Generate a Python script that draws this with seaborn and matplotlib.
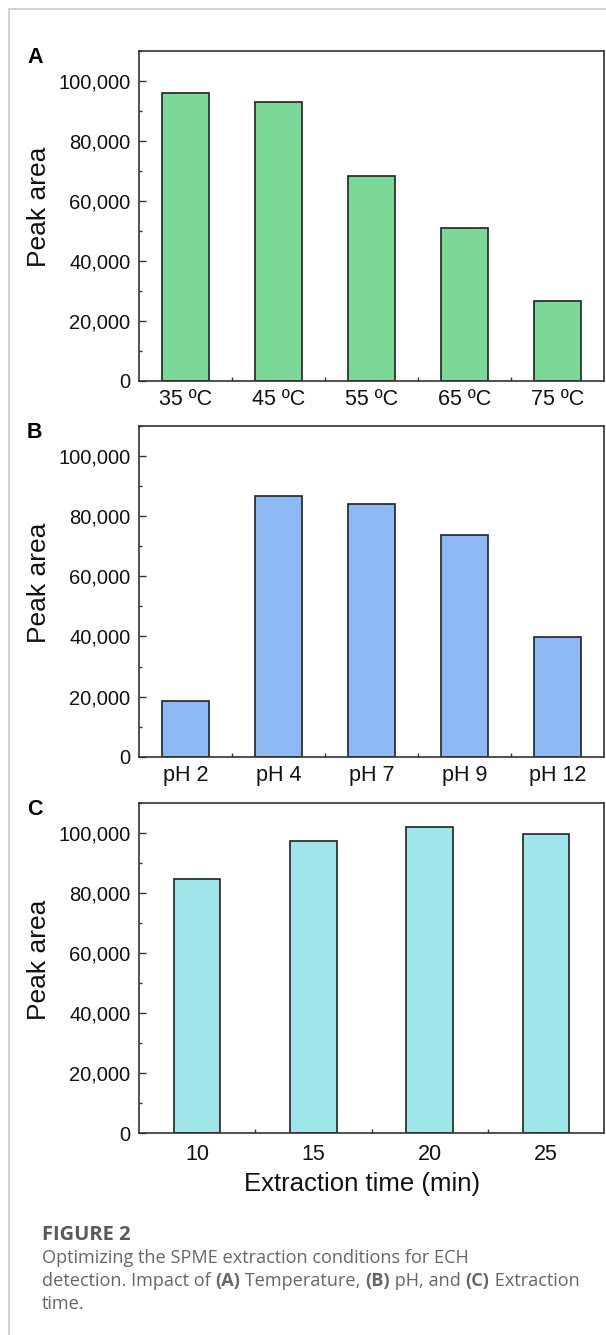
import matplotlib
matplotlib.use("Agg")
import matplotlib.pyplot as plt
from matplotlib.lines import Line2D
from matplotlib.ticker import MultipleLocator, FixedLocator, StrMethodFormatter
import pandas as pd
import seaborn as sns

# ---- data -------------------------------------------------------------
temp_labels = ["35 ºC", "45 ºC", "55 ºC", "65 ºC", "75 ºC"]
temp_area = [95800, 93000, 68200, 50900, 26500]

ph_labels = ["pH 2", "pH 4", "pH 7", "pH 9", "pH 12"]
ph_area = [18500, 86800, 83900, 73600, 39900]

time_labels = ["10", "15", "20", "25"]
time_area = [84500, 97400, 101900, 99700]

panel_letters = ["A", "B", "C"]
bar_colors = ["#7BD897", "#8DB9F4", "#9FE6EB"]

caption_title = "FIGURE 2"
caption_lines = [
    [("Optimizing the SPME extraction conditions for ECH", "normal")],
    [("detection. Impact of ", "normal"), ("(A)", "bold"), (" Temperature, ", "normal"),
     ("(B)", "bold"), (" pH, and ", "normal"), ("(C)", "bold"), (" Extraction", "normal")],
    [("time.", "normal")],
]

# ---- style ------------------------------------------------------------
sns.set_theme(style="ticks")
plt.rcParams["font.family"] = ["Liberation Sans", "DejaVu Sans"]
plt.rcParams["axes.linewidth"] = 1.2
plt.rcParams["axes.edgecolor"] = "#333333"

W, H = 606, 1335
fig = plt.figure(figsize=(W / 100, H / 100), dpi=100)
fig.patch.set_facecolor("white")


def px_axes(left, top, right, bottom):
    return fig.add_axes([left / W, 1 - bottom / H, (right - left) / W, (bottom - top) / H])


panels = [
    (temp_labels, temp_area, 0.5, (139, 50.7, 604, 380.7), 6.0),
    (ph_labels, ph_area, 0.5, (139, 426.0, 604, 756.7), 6.0),
    (time_labels, time_area, 0.4, (139, 802.7, 604, 1133.3), 7.5),
]

axes = []
for i, (labels, values, width, box, xpad) in enumerate(panels):
    ax = px_axes(*box)
    df = pd.DataFrame({"cond": labels, "area": values})
    sns.barplot(data=df, x="cond", y="area", order=labels, color=bar_colors[i],
                saturation=1, width=width, edgecolor="#222222", linewidth=1.2, ax=ax)
    n = len(labels)
    ax.set_xlim(-0.5, n - 0.5)
    ax.set_ylim(0, 110000)
    ax.yaxis.set_major_locator(MultipleLocator(20000))
    ax.yaxis.set_minor_locator(MultipleLocator(10000))
    ax.yaxis.set_major_formatter(StrMethodFormatter("{x:,.0f}"))
    ax.xaxis.set_minor_locator(FixedLocator([k + 0.5 for k in range(n - 1)]))
    for s in ax.spines.values():
        s.set_visible(True)
        s.set_linewidth(1.2)
        s.set_color("#333333")
    ax.tick_params(axis="y", which="major", direction="in", length=5, width=1.0,
                   color="#333333", labelsize=14.5, pad=6.3, labelcolor="#111111")
    ax.tick_params(axis="y", which="minor", direction="in", length=2.5, width=1.0,
                   color="#333333")
    ax.tick_params(axis="x", which="major", length=0, labelsize=15.5, pad=xpad,
                   labelcolor="#111111")
    ax.tick_params(axis="x", which="minor", direction="in", length=3, width=1.0,
                   color="#333333")
    ax.set_ylabel("Peak area", fontsize=19, color="#111111", va="center")
    ax.yaxis.set_label_coords((39 - 139) / 465, 0.526)
    ax.set_xlabel("")
    left, top, right, bottom = box
    fig.text(27 / W, 1 - (top - 3.5) / H, panel_letters[i], fontsize=15.5,
             fontweight="bold", ha="left", va="top", color="#000000")
    axes.append(ax)

ax_c = axes[2]
ax_c.set_xlabel("Extraction time (min)", fontsize=18.5, color="#111111", va="center")
ax_c.xaxis.set_label_coords((362 - 139) / 465, (1133.3 - 1184) / 330.6)

# ---- page frame lines ------------------------------------------------
frame_kw = dict(color="#cfcfcf", linewidth=1.3, transform=fig.transFigure)
fig.add_artist(Line2D([9 / W, 9 / W], [0, 1 - 9 / H], **frame_kw))
fig.add_artist(Line2D([9 / W, 1], [1 - 9 / H, 1 - 9 / H], **frame_kw))

# ---- caption --------------------------------------------------------------
cap_font = ["Open Sans", "DejaVu Sans"]
cap_color = "#666666"
cap_size = 13.1
renderer = fig.canvas.get_renderer()

fig.text(42 / W, 1 - 1235 / H, caption_title, fontsize=14.5, fontweight="bold",
         family=cap_font, color="#5a5a5a", ha="left", va="center")


def run_width(text, weight):
    probe = fig.text(0, 0, text + "x", fontsize=cap_size, fontweight=weight, family=cap_font)
    ref = fig.text(0, 0, "x", fontsize=cap_size, fontweight=weight, family=cap_font)
    w = probe.get_window_extent(renderer).width - ref.get_window_extent(renderer).width
    probe.remove()
    ref.remove()
    return w


line_y = [1258, 1281, 1304]
for runs, y in zip(caption_lines, line_y):
    x = 42.0
    for text, weight in runs:
        fig.text(x / W, 1 - y / H, text, fontsize=cap_size, fontweight=weight,
                 family=cap_font, color=cap_color, ha="left", va="center")
        x += run_width(text, weight)

fig.savefig("out.png", dpi=100, facecolor="white")
